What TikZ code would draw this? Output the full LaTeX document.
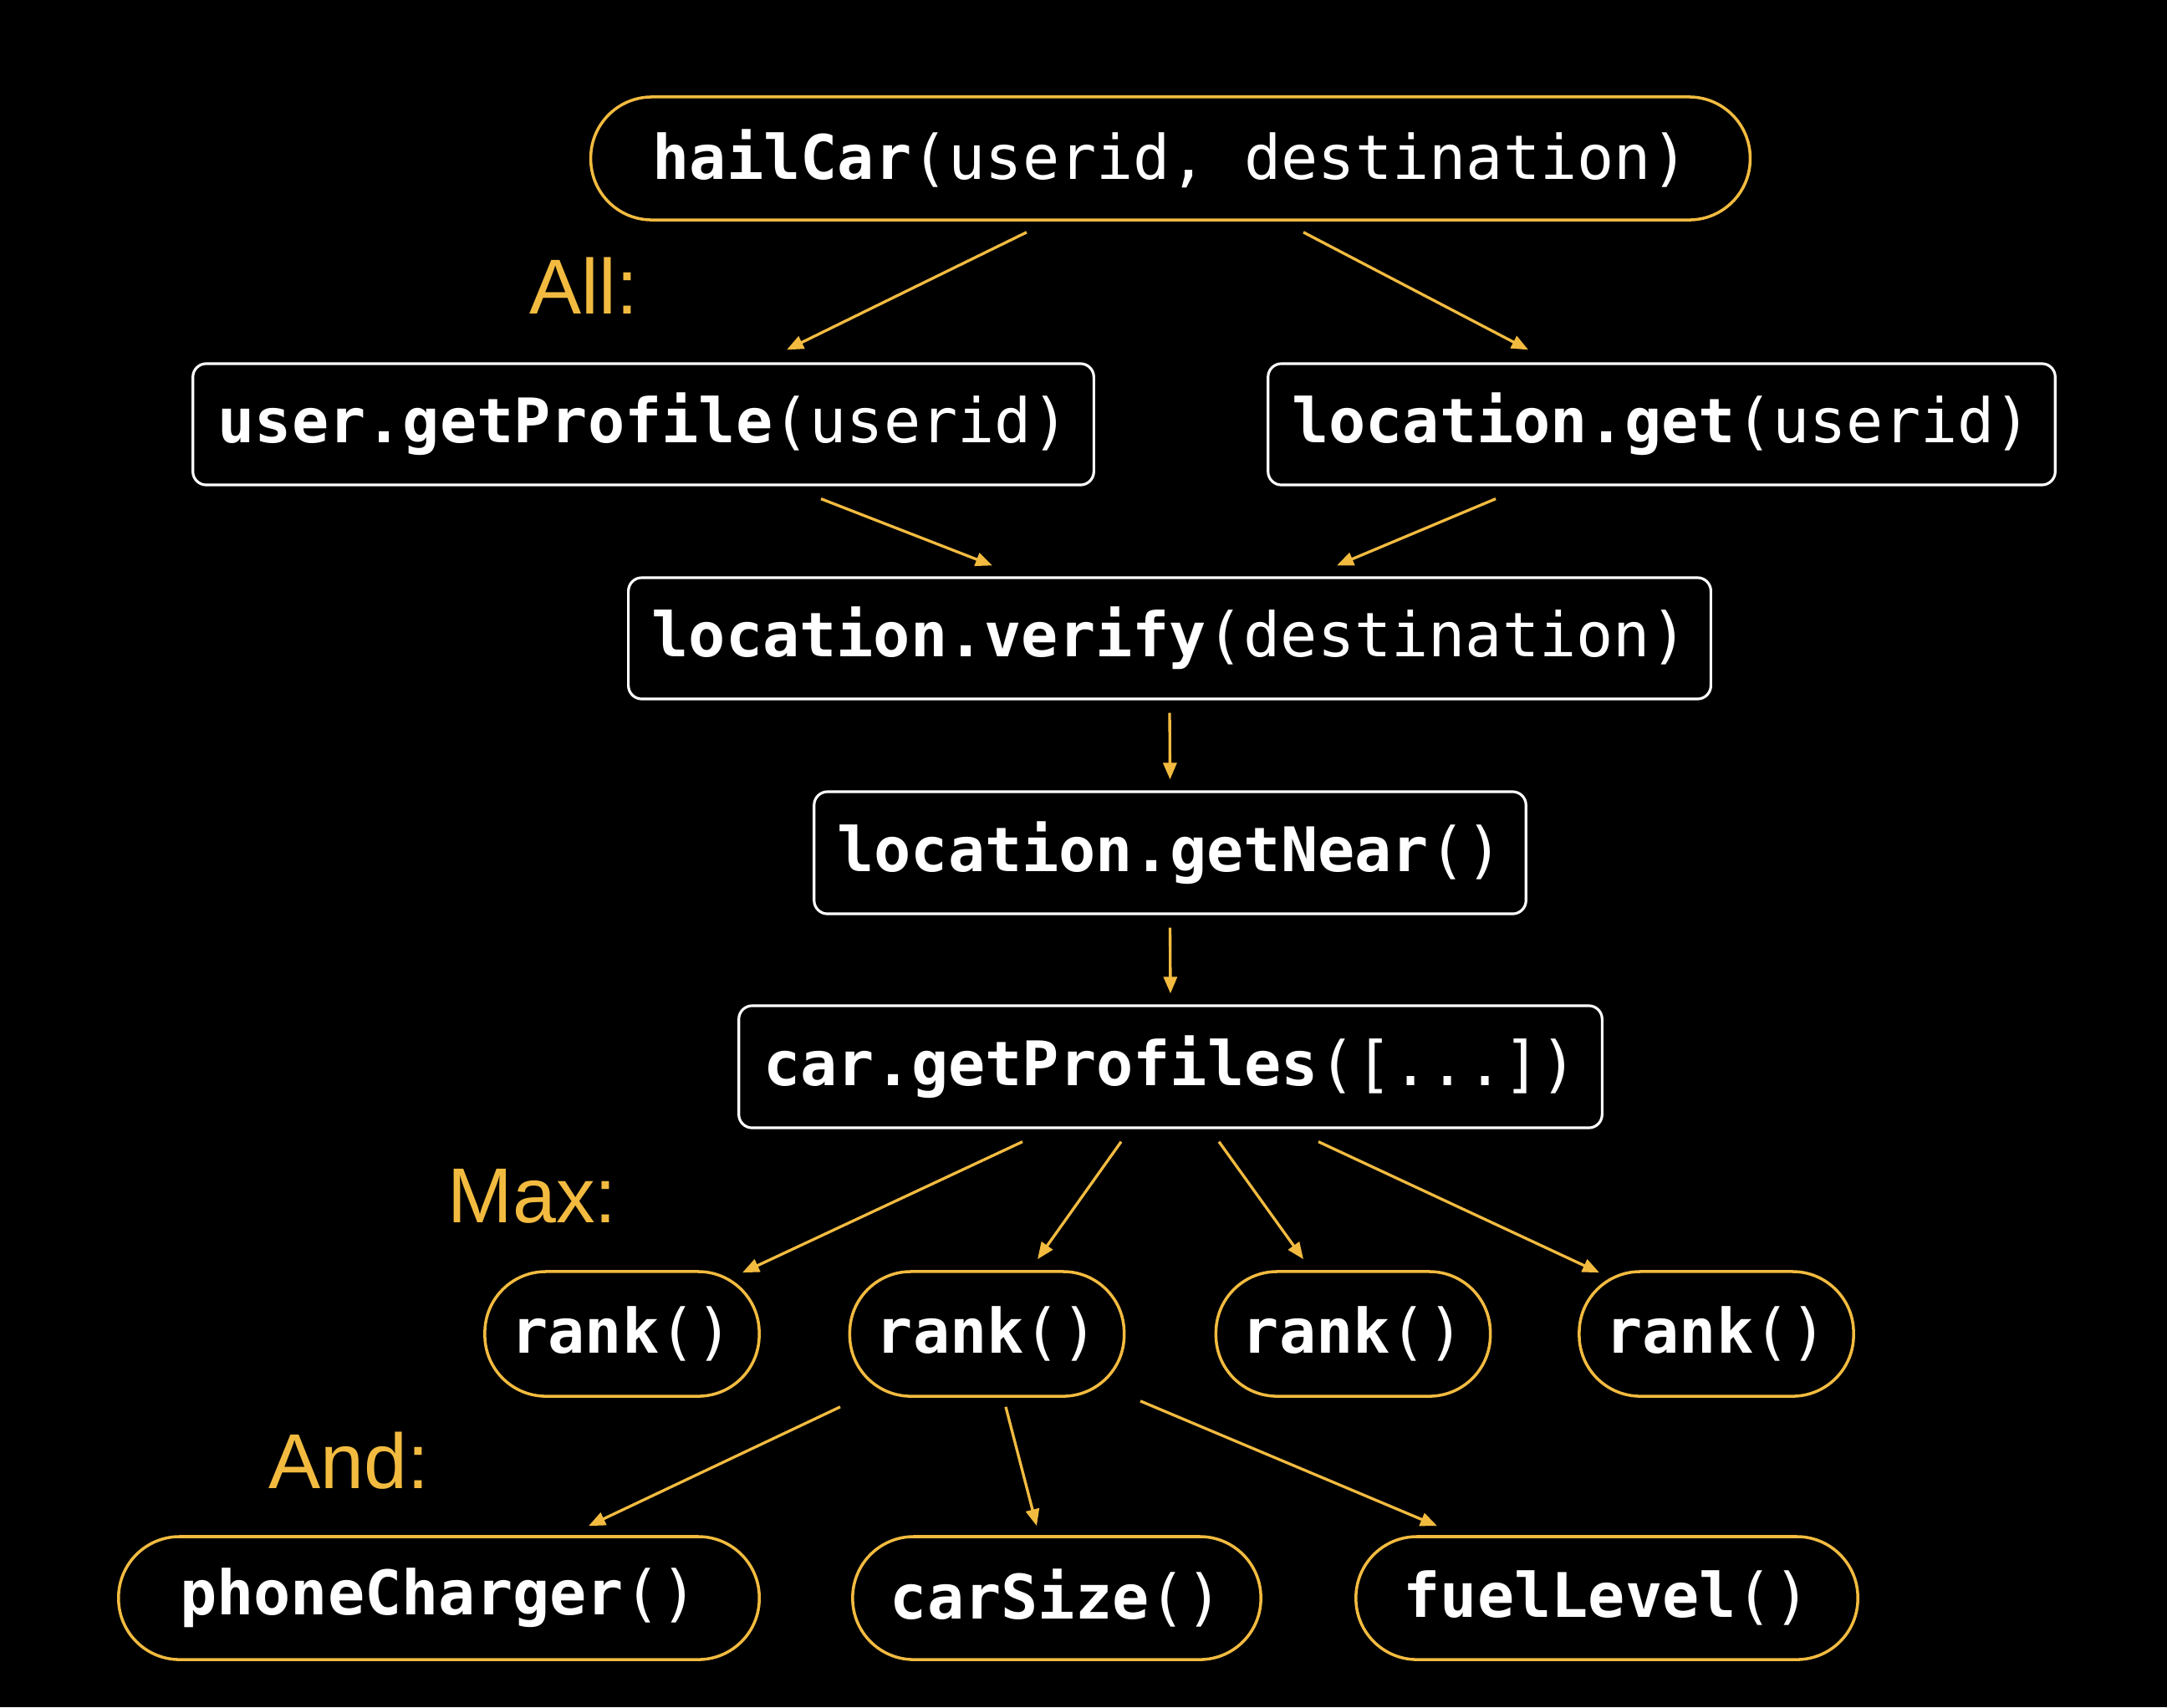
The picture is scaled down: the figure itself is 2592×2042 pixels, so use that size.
\documentclass[tikz,border=0pt]{standalone}
\usepackage{fontspec}
\setmonofont{DejaVu Sans Mono}
\newfontfamily\labfont{Liberation Sans}
\usetikzlibrary{arrows.meta,calc}
\definecolor{yel}{HTML}{F2BB40}
\begin{document}
\begin{tikzpicture}[x=0.01cm,y=-0.01cm,
  code/.style={font=\fontsize{20.9pt}{24pt}\selectfont\ttfamily, text=white, inner sep=0pt, align=center},
  pill/.style={code, draw=yel, line width=1pt, rounded corners=0.73cm, minimum height=1.47cm},
  sbox/.style={code, draw=white, line width=0.9pt, rounded corners=0.16cm, minimum height=1.45cm},
  lab/.style={font=\fontsize{26.5pt}{30pt}\selectfont\labfont, text=yel, inner sep=0pt, anchor=base west},
  arr/.style={draw=yel, line width=0.95pt, -{Triangle[length=0.2cm,width=0.16cm]}}
]
\fill[black] (0,0) rectangle (2592,2042);
\useasboundingbox (0,0) rectangle (2592,2042);

\node[pill, minimum width=13.86cm] (hail) at (1400,189.5) {\textbf{hailCar}(userid, destination)};
\node[sbox, minimum width=10.77cm] (user) at (769.5,507.5) {\textbf{user.getProfile}(userid)};
\node[sbox, minimum width=9.41cm] (locget) at (1987.5,507.5) {\textbf{location.get}(userid)};
\node[sbox, minimum width=12.94cm] (verify) at (1399,763.5) {\textbf{location.verify}(destination)};
\node[sbox, minimum width=8.51cm, minimum height=1.46cm] (near) at (1399.5,1020) {\textbf{location.getNear}()};
\node[sbox, minimum width=10.32cm, minimum height=1.46cm] (car) at (1400,1276) {\textbf{car.getProfiles}([...])};

\node[pill, minimum width=3.28cm, minimum height=1.49cm] (rankA) at (744,1595.5) {\textbf{rank}()};
\node[pill, minimum width=3.28cm, minimum height=1.49cm] (rankB) at (1180.5,1595.5) {\textbf{rank}()};
\node[pill, minimum width=3.28cm, minimum height=1.49cm] (rankC) at (1618.5,1595.5) {\textbf{rank}()};
\node[pill, minimum width=3.28cm, minimum height=1.49cm] (rankD) at (2053,1595.5) {\textbf{rank}()};

\node[pill, minimum width=7.66cm] (phone) at (525,1911.5) {\textbf{phoneCharger}()};
\node[pill, minimum width=4.88cm] (size) at (1264,1911.5) {\textbf{carSize}()};
\node[pill, minimum width=6.00cm] (fuel) at (1922,1911.5) {\textbf{fuelLevel}()};

\node[lab] (all) at (633,375) {All:};
\node[lab] (max) at (535,1462) {Max:};
\node[lab] (and) at (321,1780) {And:};

\draw[arr] ($(hail.south)+(-172,13)$) -- ($(user.north)+(171.5,-15)$);
\draw[arr] ($(hail.south)+(159,13)$) -- ($(locget.north)+(-159.5,-15)$);
\draw[arr] ($(user.south)+(212.5,15)$) -- ($(verify.north)+(-212,-13)$);
\draw[arr] ($(locget.south)+(-198.5,15)$) -- ($(verify.north)+(200,-13)$);
\draw[arr] ($(verify.south)+(0,15)$) -- ($(near.north)+(0,-13)$);
\draw[arr] ($(near.south)+(0,15)$) -- ($(car.north)+(0,-13)$);
\draw[arr] ($(car.south)+(-177,15)$) -- ($(rankA.north)+(144,3)$);
\draw[arr] ($(car.south)+(-59,15)$) -- ($(rankB.north)+(60.5,-13)$);
\draw[arr] ($(car.south)+(58,15)$) -- ($(rankC.north)+(-59.5,-13)$);
\draw[arr] ($(car.south)+(177,15)$) -- ($(rankD.north)+(-140,3)$);
\draw[arr] ($(rankB.south)+(-175.5,11)$) -- ($(phone.north)+(179,-11)$);
\draw[arr] ($(rankB.south)+(22.5,11)$) -- ($(size.north)+(-24,-11)$);
\draw[arr] ($(rankB.south)+(183.5,4)$) -- ($(fuel.north)+(-203,-11)$);
\end{tikzpicture}
\end{document}
